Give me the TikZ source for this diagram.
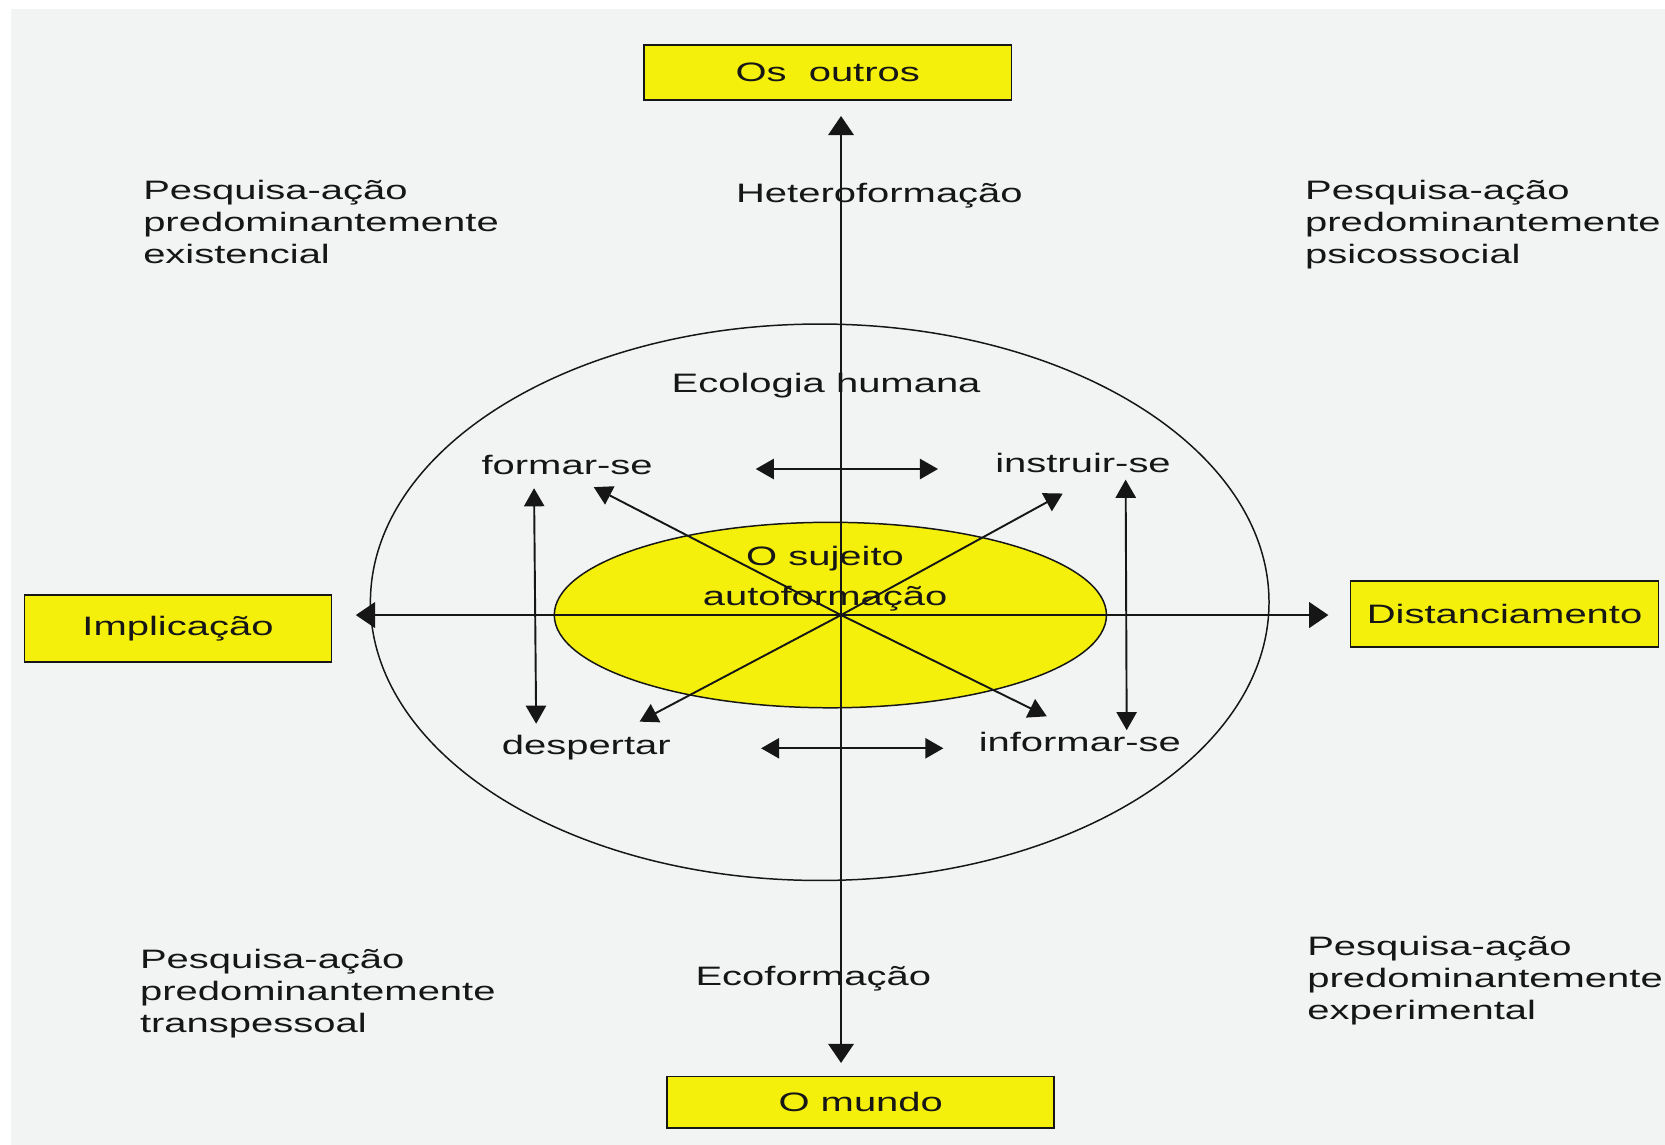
\documentclass[tikz,border=0pt]{standalone}
\usepackage{fontspec}
\setmainfont{Liberation Sans}[FakeStretch=1.5]
\usepackage{tikz}
\usetikzlibrary{arrows.meta,shapes.geometric,positioning,calc}
\definecolor{amarelo}{RGB}{244,240,12}
\definecolor{papel}{RGB}{242,244,244}
\definecolor{tinta}{RGB}{22,22,22}
\tikzset{
caixa/.style={draw=tinta, line width=0.8pt, fill=amarelo, inner sep=0pt,
  font=\fontsize{12.5}{15}\selectfont, text=tinta},
rotulo/.style={inner sep=0pt, font=\fontsize{12.5}{15}\selectfont, text=tinta},
bloco/.style={rotulo, align=left, anchor=west},
circulo/.style={draw=tinta, line width=0.7pt, ellipse, inner sep=0pt},
nucleo/.style={circulo, fill=amarelo},
eixo/.style={draw=tinta, line width=1pt, -{Triangle[length=9pt,width=12pt]}},
seta/.style={draw=tinta, line width=0.9pt, -{Triangle[length=8.5pt,width=9.5pt]}},
dupla/.style={draw=tinta, line width=0.9pt,
  {Triangle[length=8.5pt,width=9.5pt]}-{Triangle[length=8.5pt,width=9.5pt]}},
}

\begin{document}
\begin{tikzpicture}[x=0.5pt,y=-0.5pt]
    \fill[white] (0,0) rectangle (1562,1074);
    \fill[papel] (10,8) rectangle (1562,1074);
    \useasboundingbox (0,0) rectangle (1562,1074);

    % elipses
    \node[circulo, minimum width=421.5pt, minimum height=261pt] (ecologia) at (769,565) {};
    \node[nucleo, minimum width=259pt, minimum height=87pt] (sujeito) at (779,577) {};

    % caixas dos polos
    \node[caixa, minimum width=172.5pt, minimum height=26pt] (outros) at (776.5,68) {Os\ \ outros};
    \node[caixa, minimum width=181.5pt, minimum height=24pt] (mundo) at (807.5,1034) {O mundo};
    \node[caixa, minimum width=144pt, minimum height=31.5pt] (implicacao) at (167,589.5) {Implicação};
    \node[caixa, minimum width=144.5pt, minimum height=31pt] (distanciamento) at (1411.5,576) {Distanciamento};

    % eixos
    \coordinate (c) at (789,577);
    \draw[eixo, shorten >=7pt] (c) -- (c |- outros.south);
    \draw[eixo, shorten >=6pt] (c) -- (c |- mundo.north);
    \draw[eixo, shorten >=11pt] (c) -- (c -| implicacao.east);
    \draw[eixo, shorten >=10pt] (c) -- (c -| distanciamento.west);

    % diagonais
    \coordinate (pf) at (557,457);
    \coordinate (pi) at (997,463);
    \coordinate (pd) at (600,677);
    \coordinate (pn) at (982,672);
    \foreach \p in {pf,pi,pd,pn}
        \draw[seta] (c) -- (\p);

    % setas duplas
    \coordinate (fa) at (501,458);  \coordinate (fb) at (503,679);
    \coordinate (ia) at (1056,450); \coordinate (ib) at (1057,685);
    \coordinate (ta) at (709,440);  \coordinate (tb) at (880,440);
    \coordinate (ba) at (714,702);  \coordinate (bb) at (885,702);
    \draw[dupla] (fa) -- (fb);
    \draw[dupla] (ia) -- (ib);
    \draw[dupla] (ta) -- (tb);
    \draw[dupla] (ba) -- (bb);

    % rotulos
    \node[rotulo] (hetero) at (825,184) {Heteroformação};
    \node[rotulo] (humana) at (775,362) {Ecologia humana};
    \node[rotulo] (formar) at (532,436) {formar-se};
    \node[rotulo] (instruir) at (1016,434) {instruir-se};
    \node[rotulo, align=center, font=\fontsize{12.5}{19}\selectfont] (auto) at (774,543) {O sujeito\\autoformação};
    \node[rotulo] (despertar) at (550,701) {despertar};
    \node[rotulo] (informar) at (1013,696) {informar-se};
    \node[rotulo] (eco) at (763,918) {Ecoformação};

    % quadrantes
    \node[bloco] (existencial) at (134,208) {Pesquisa-ação\\predominantemente\\existencial};
    \node[bloco] (psicossocial) at (1224,211) {Pesquisa-ação\\predominantemente\\psicossocial};
    \node[bloco] (transpessoal) at (131,932) {Pesquisa-ação\\predominantemente\\transpessoal};
    \node[bloco] (experimental) at (1226,920) {Pesquisa-ação\\predominantemente\\experimental};
\end{tikzpicture}
\end{document}
